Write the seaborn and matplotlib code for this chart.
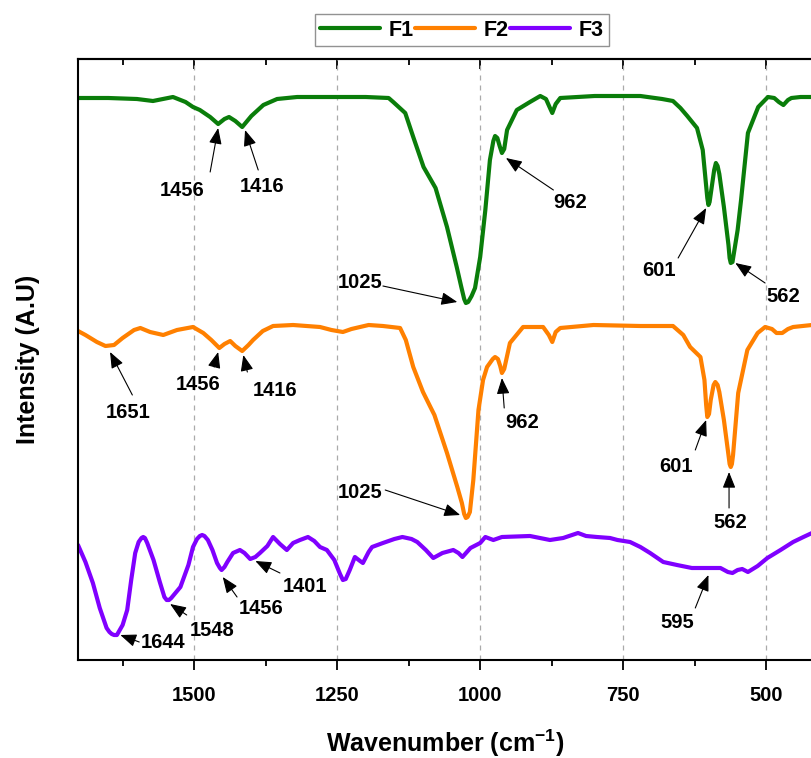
import matplotlib
matplotlib.use("Agg")
import matplotlib.pyplot as plt
import seaborn as sns
import pandas as pd
from matplotlib.ticker import MultipleLocator, NullLocator

# ---------------- data ----------------
f1_wn = [1703, 1650, 1600, 1572, 1537, 1515, 1502, 1490, 1472, 1458, 1447, 1439, 1428, 1416, 1400,
         1379, 1355, 1320, 1250, 1200, 1160, 1152, 1131, 1117, 1099, 1083, 1078, 1058, 1041, 1033,
         1028, 1025, 1021, 1015, 1009, 1000, 991, 983, 977, 974, 970, 966, 962, 958, 953, 936, 913,
         895, 885, 878, 874, 868, 860, 800, 720, 682, 663, 650, 638, 621, 611, 606, 603, 601, 599,
         596, 591, 588, 585, 582, 574, 566, 564, 562, 559, 557, 550, 544, 532, 514, 497, 486, 478,
         470, 462, 456, 440, 420]
f1_int = [562, 562, 561, 559, 563, 558, 553, 550, 543, 536, 541, 543, 539, 533, 544,
          555, 561, 563, 563, 563, 562, 558, 547, 523, 493, 477, 472, 433, 393, 373,
          361, 357, 358, 364, 372, 403, 450, 500, 519, 524, 522, 514, 507, 511, 530, 550, 558,
          564, 561, 552, 547, 556, 562, 564, 564, 561, 559, 552, 544, 532, 510, 480, 462, 455, 458,
          470, 490, 497, 494, 486, 453, 415, 402, 397, 398, 405, 430, 460, 527, 553, 563, 562, 558,
          555, 560, 562, 563, 563]

f2_wn = [1703, 1690, 1670, 1655, 1640, 1625, 1605, 1594, 1577, 1554, 1530, 1502, 1484, 1470, 1456,
         1447, 1437, 1428, 1416, 1405, 1397, 1380, 1362, 1327, 1280, 1260, 1240, 1225, 1210, 1195,
         1170, 1140, 1130, 1117, 1100, 1087, 1080, 1058, 1040, 1032, 1028, 1025, 1022, 1018, 1012,
         1003, 995, 988, 978, 974, 969, 965, 962, 958, 948, 925, 890, 880, 874, 868, 860, 802, 720,
         663, 645, 633, 615, 608, 605, 603, 600, 597, 592, 589, 585, 582, 574, 566, 564, 562, 560,
         558, 549, 533, 515, 502, 490, 482, 472, 462, 453, 420]
f2_int = [329, 325, 318, 314, 315, 322, 330, 332, 328, 325, 330, 333, 327, 320, 312,
          316, 319, 314, 309, 315, 320, 329, 334, 335, 333, 330, 328, 331, 333, 335,
          334, 332, 320, 293, 268, 253, 245, 207, 173, 157, 146, 142, 143, 148, 180,
          250, 280, 293, 301, 303, 301, 294, 287, 291, 317, 333, 333, 325, 318, 328, 332, 335, 334,
          334, 325, 313, 303, 280, 255, 243, 246, 260, 275, 278, 275, 268, 240, 205, 196, 193, 196,
          205, 267, 310, 327, 333, 331, 327, 327, 331, 333, 335]

f3_wn = [1703, 1690, 1677, 1665, 1653, 1648, 1644, 1640, 1635, 1625, 1617, 1610, 1603, 1597, 1592,
         1589, 1586, 1582, 1571, 1560, 1552, 1548, 1544, 1540, 1524, 1510, 1502, 1495, 1490, 1486,
         1482, 1476, 1468, 1460, 1455, 1452, 1447, 1442, 1432, 1420, 1412, 1402, 1393, 1385, 1372,
         1362, 1350, 1338, 1327, 1315, 1301, 1290, 1280, 1268, 1255, 1245, 1240, 1235, 1228, 1219,
         1210, 1205, 1195, 1189, 1170, 1150, 1136, 1120, 1110, 1095, 1082, 1066, 1047, 1038, 1031,
         1017, 1000, 991, 977, 962, 913, 878, 855, 829, 815, 796, 773, 760, 738, 720, 703, 680,
         656, 630, 600, 580, 567, 559, 550, 542, 532, 515, 498, 475, 453, 435, 420]
f3_int = [115, 98, 77, 52, 32, 28, 26, 25, 25, 35, 50, 80, 107, 118, 122,
          123, 122, 117, 100, 78, 63, 60, 60, 62, 73, 95, 113, 121, 124, 125,
          124, 120, 110, 97, 92, 90, 93, 98, 107, 110, 107, 101, 103, 107, 114,
          123, 116, 110, 117, 120, 123, 119, 113, 110, 100, 86, 80, 81, 90, 103,
          99, 97, 108, 113, 117, 121, 123, 121, 118, 110, 102, 107, 110, 107, 103,
          112, 117, 123, 120, 123, 124, 120, 122, 127, 124, 123, 122, 120, 118, 113, 107, 98,
          95, 92, 92, 92, 88, 87, 90, 91, 88, 94, 102, 110, 118, 123, 127]

series_names = ["F1", "F2", "F3"]
series_colors = ["#0a7d0a", "#ff8000", "#8000ff"]

# peak labels: (label, peak wavenumber, intensity at peak)
f1_peaks = [("1456", 1458, 532), ("1416", 1411, 530), ("1025", 1040, 358),
            ("962", 955, 502), ("601", 605, 452), ("562", 554, 397)]
f2_peaks = [("1651", 1647, 308), ("1456", 1458, 308), ("1416", 1414, 305),
            ("1025", 1035, 145), ("962", 962, 282), ("601", 605, 240), ("562", 565, 188)]
f3_peaks = [("1644", 1629, 25), ("1548", 1542, 56), ("1456", 1450, 83),
            ("1401", 1393, 99), ("595", 601, 85)]

# label layout: (text x, text y, arrow tail x, arrow tail y) for each label
f1_layout = [(1521, 470, 1472, 488), (1381, 474, 1388, 490), (1210, 378, 1170, 374),
             (843, 457, 872, 470), (688, 390, 654, 402), (470, 363, 502, 377)]
f2_layout = [(1615, 248, 1608, 265), (1493, 276, 1465, 293), (1358, 270, 1407, 288),
             (1210, 168, 1166, 170), (926, 237, 958, 252), (657, 194, 624, 210),
             (563, 137, 565, 152)]
f3_layout = [(1554, 17, 1596, 18), (1469, 30, 1513, 45), (1383, 52, 1425, 63),
             (1306, 74, 1350, 87), (656, 37, 624, 52)]

# ---------------- styling ----------------
sns.set_style("ticks")
plt.rcParams['font.family'] = ['Liberation Sans', 'DejaVu Sans']
plt.rcParams['font.weight'] = 'bold'
plt.rcParams['axes.labelweight'] = 'bold'
plt.rcParams['text.color'] = 'black'
plt.rcParams['axes.labelcolor'] = 'black'
plt.rcParams['xtick.color'] = 'black'
plt.rcParams['ytick.color'] = 'black'
plt.rcParams['mathtext.fontset'] = 'custom'
plt.rcParams['mathtext.rm'] = 'Liberation Sans:bold'
plt.rcParams['mathtext.bf'] = 'Liberation Sans:bold'
plt.rcParams['mathtext.it'] = 'Liberation Sans:bold'

W, H = 812, 758
fig = plt.figure(figsize=(W / 100, H / 100), dpi=100)
ax = fig.add_axes([78 / W, 1 - 660 / H, (W - 78) / W, 601 / H])

df = pd.concat([
    pd.DataFrame({"wn": f1_wn, "I": f1_int, "s": "F1"}),
    pd.DataFrame({"wn": f2_wn, "I": f2_int, "s": "F2"}),
    pd.DataFrame({"wn": f3_wn, "I": f3_int, "s": "F3"}),
])
sns.lineplot(data=df, x="wn", y="I", hue="s", hue_order=series_names,
             palette=series_colors, sort=False, estimator=None, linewidth=3.0,
             ax=ax, legend=True)
for ln in ax.get_lines():
    ln.set_solid_capstyle("round")
    ln.set_solid_joinstyle("round")

ax.set_xlim(1703, 420)
ax.set_ylim(0, 601)

ax.xaxis.set_major_locator(MultipleLocator(250))
ax.xaxis.set_minor_locator(MultipleLocator(125))
ax.yaxis.set_major_locator(NullLocator())
ax.tick_params(axis='x', which='major', direction='out', length=7, width=1.3,
               labelsize=14.5, pad=12, top=False, colors='black')
ax.tick_params(axis='x', which='minor', direction='out', length=4.5, width=1.3, top=False)
for lab in ax.get_xticklabels():
    lab.set_fontweight('bold')

sec = ax.secondary_xaxis('top')
sec.xaxis.set_major_locator(MultipleLocator(250))
sec.xaxis.set_minor_locator(MultipleLocator(125))
sec.tick_params(axis='x', which='major', direction='in', length=7, width=1.3, labeltop=False)
sec.tick_params(axis='x', which='minor', direction='in', length=4.5, width=1.3)
sec.spines['top'].set_linewidth(1.5)

ax.xaxis.grid(True, which='major', linestyle=(0, (4, 4)), color='#aaaaaa', linewidth=0.9)
ax.spines['right'].set_visible(False)
for sp in ['left', 'bottom', 'top']:
    ax.spines[sp].set_linewidth(1.5)
    ax.spines[sp].set_color('black')

ax.set_xlabel(r"Wavenumber (cm$^{\mathbf{-1}}$)", fontsize=18, fontweight='bold', labelpad=16)
ax.set_ylabel("Intensity (A.U)", fontsize=18, fontweight='bold', labelpad=27)

# annotations
for peaks, layout in [(f1_peaks, f1_layout), (f2_peaks, f2_layout), (f3_peaks, f3_layout)]:
    for (lab, px, py), (tx, ty, ax0, ay0) in zip(peaks, layout):
        ax.text(tx, ty, lab, ha='center', va='center', fontsize=14.5, fontweight='bold',
                color='black')
        ax.annotate("", xy=(px, py), xytext=(ax0, ay0),
                    arrowprops=dict(arrowstyle='-|>,head_length=0.7,head_width=0.28',
                                    color='black', lw=0.8, mutation_scale=14,
                                    shrinkA=0, shrinkB=0))

handles, labels = ax.get_legend_handles_labels()
ax.get_legend().remove()
leg = fig.legend(handles, labels, loc='center', bbox_to_anchor=(462 / W, 1 - 30 / H),
                 ncol=3, frameon=True, fancybox=False, edgecolor='#777777',
                 prop={'size': 15.5, 'weight': 'bold'}, handlelength=2.8,
                 handletextpad=0.4, columnspacing=0.05, borderpad=0.25,
                 borderaxespad=0)
leg.get_frame().set_linewidth(1.0)
for t in leg.get_texts():
    t.set_color('black')
for h in leg.get_lines():
    h.set_linewidth(3.0)

fig.savefig("out.png", dpi=100)
